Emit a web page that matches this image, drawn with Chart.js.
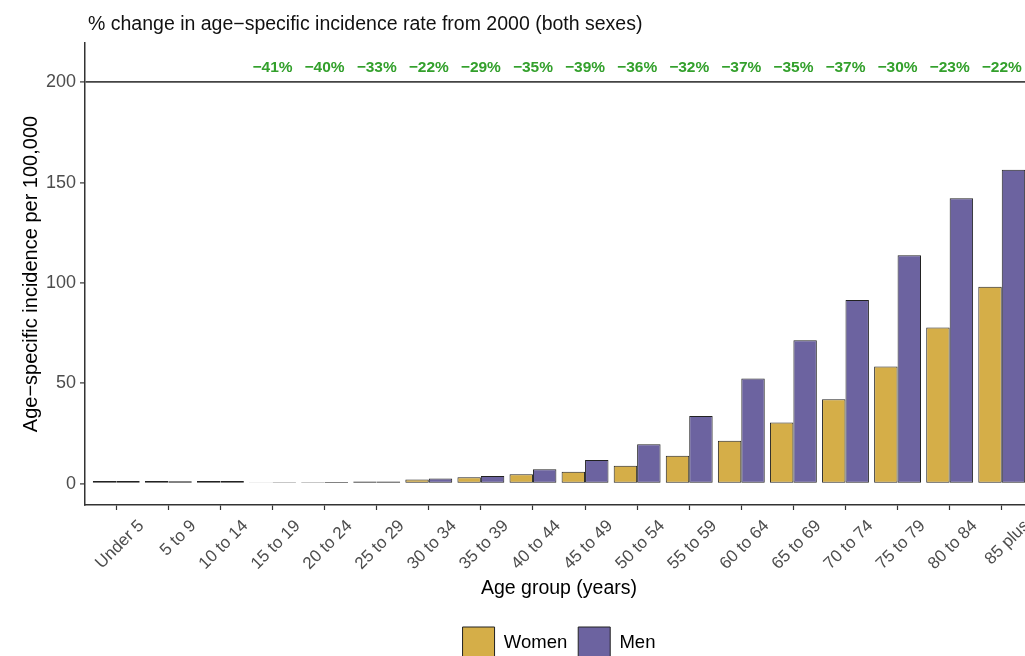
<!DOCTYPE html>
<html>
<head>
<meta charset="utf-8">
<title>Age-specific incidence</title>
<script src="https://cdn.jsdelivr.net/npm/chart.js@4.4.1/dist/chart.umd.min.js"></script>
<style>
  html, body { margin: 0; padding: 0; background: #ffffff; overflow: hidden; }
  #frame { position: relative; width: 1025px; height: 656px; overflow: hidden; }
  #chart { position: absolute; left: 0; top: 0; }
</style>
</head>
<body>
<div id="frame"><canvas id="chart" width="1040" height="669"></canvas></div>
<script>
// Age groups on the x axis
const ageGroups = ['Under 5', '5 to 9', '10 to 14', '15 to 19', '20 to 24', '25 to 29',
  '30 to 34', '35 to 39', '40 to 44', '45 to 49', '50 to 54', '55 to 59',
  '60 to 64', '65 to 69', '70 to 74', '75 to 79', '80 to 84', '85 plus'];

// Age-specific incidence per 100,000
const women = [1.4, 1.3, 1.4, 0.6, 0.7, 1.1, 2.1, 3.2, 4.7, 6.0, 9.0, 13.9,
  21.4, 30.5, 42.1, 58.4, 77.8, 98.2];
const men = [1.3, 1.2, 1.4, 0.7, 0.8, 1.1, 2.6, 3.8, 7.2, 11.8, 19.7, 33.8,
  52.4, 71.5, 91.5, 113.9, 142.2, 156.5];

// % change in rate since 2000 (both sexes), per age group
const changeGroups = ['15 to 19', '20 to 24', '25 to 29', '30 to 34', '35 to 39', '40 to 44',
  '45 to 49', '50 to 54', '55 to 59', '60 to 64', '65 to 69', '70 to 74',
  '75 to 79', '80 to 84', '85 plus'];
const pctChange = [-41, -40, -33, -22, -29, -35, -39, -36, -32, -37, -35, -37, -30, -23, -22];

// Value axis ticks
const yTicks = [0, 50, 100, 150, 200];

const FONT = "'Liberation Sans', Arial, Helvetica, sans-serif";
const TITLE = '% change in age\u2212specific incidence rate from 2000 (both sexes)';
const LABEL_ROW = 207.5; // height (in axis units) of the % change row
const REF_LINE = 200;    // reference line drawn across the panel

const fmtPct = v => (v < 0 ? '\u2212' + Math.abs(v) : '+' + v) + '%';

const annotations = {
  id: 'annotations',
  afterDatasetsDraw(chart) {
    const { ctx, chartArea, scales: { x, y } } = chart;
    ctx.save();
    ctx.font = 'bold 15.5px ' + FONT;
    ctx.fillStyle = '#33a02c';
    ctx.textAlign = 'center';
    ctx.textBaseline = 'middle';
    changeGroups.forEach((g, i) => {
      const idx = ageGroups.indexOf(g);
      ctx.fillText(fmtPct(pctChange[i]), x.getPixelForValue(idx), y.getPixelForValue(LABEL_ROW));
    });
    ctx.font = '19.5px ' + FONT;
    ctx.fillStyle = '#111111';
    ctx.textAlign = 'left';
    ctx.textBaseline = 'alphabetic';
    ctx.fillText(TITLE, chartArea.left + 3, chartArea.top - 13);
    ctx.restore();
  }
};

new Chart(document.getElementById('chart'), {
  type: 'bar',
  data: {
    labels: ageGroups.map((_, i) => i),
    datasets: [
      { label: 'Women', data: women, backgroundColor: '#D5AE48', borderColor: '#222222',
        borderWidth: 1, borderSkipped: false, categoryPercentage: 0.9, barPercentage: 1.0 },
      { label: 'Men', data: men, backgroundColor: '#6C63A0', borderColor: '#222222',
        borderWidth: 1, borderSkipped: false, categoryPercentage: 0.9, barPercentage: 1.0 }
    ]
  },
  options: {
    responsive: false,
    animation: false,
    events: [],
    layout: { padding: { left: 0, right: 7, top: 43, bottom: 0 } },
    scales: {
      x: {
        type: 'linear',
        min: -0.6,
        max: 17.6,
        offset: false,
        afterBuildTicks: s => { s.ticks = ageGroups.map((_, i) => ({ value: i })); },
        afterFit: s => { s.height = 111; },
        border: { display: true, color: '#333333', width: 1.5 },
        grid: { display: true, drawOnChartArea: false, offset: false, tickLength: 5,
                tickColor: '#333333', tickWidth: 1.2 },
        ticks: {
          autoSkip: false, maxRotation: 45, minRotation: 45, padding: 6, labelOffset: 25,
          color: '#4d4d4d', font: { family: FONT, size: 17 },
          callback: v => ageGroups[v]
        },
        title: { display: true, text: 'Age group (years)', color: '#000000',
                 font: { family: FONT, size: 19.5 }, padding: { top: 0, bottom: 16 } }
      },
      y: {
        min: -10.6,
        max: 219.6,
        afterBuildTicks: s => { s.ticks = yTicks.map(v => ({ value: v })); },
        afterFit: s => { s.width = 85; },
        border: { display: true, color: '#333333', width: 1.5 },
        grid: {
          drawOnChartArea: true,
          color: c => (c.tick && c.tick.value === REF_LINE ? '#444444' : 'rgba(0,0,0,0)'),
          lineWidth: 1.8,
          tickLength: 5, tickColor: '#333333', tickWidth: 1.2
        },
        ticks: { color: '#4d4d4d', font: { family: FONT, size: 18 }, padding: 4 },
        title: { display: true, text: 'Age\u2212specific incidence per 100,000', color: '#000000',
                 font: { family: FONT, size: 20 }, padding: { top: 19, bottom: 0 } }
      }
    },
    plugins: {
      legend: {
        position: 'bottom',
        fullSize: false,
        labels: { boxWidth: 32, boxHeight: 32, padding: 11, color: '#000000',
                  font: { family: FONT, size: 18.5 } }
      },
      title: { display: false },
      tooltip: { enabled: false }
    }
  },
  plugins: [annotations]
});
</script>
</body>
</html>
